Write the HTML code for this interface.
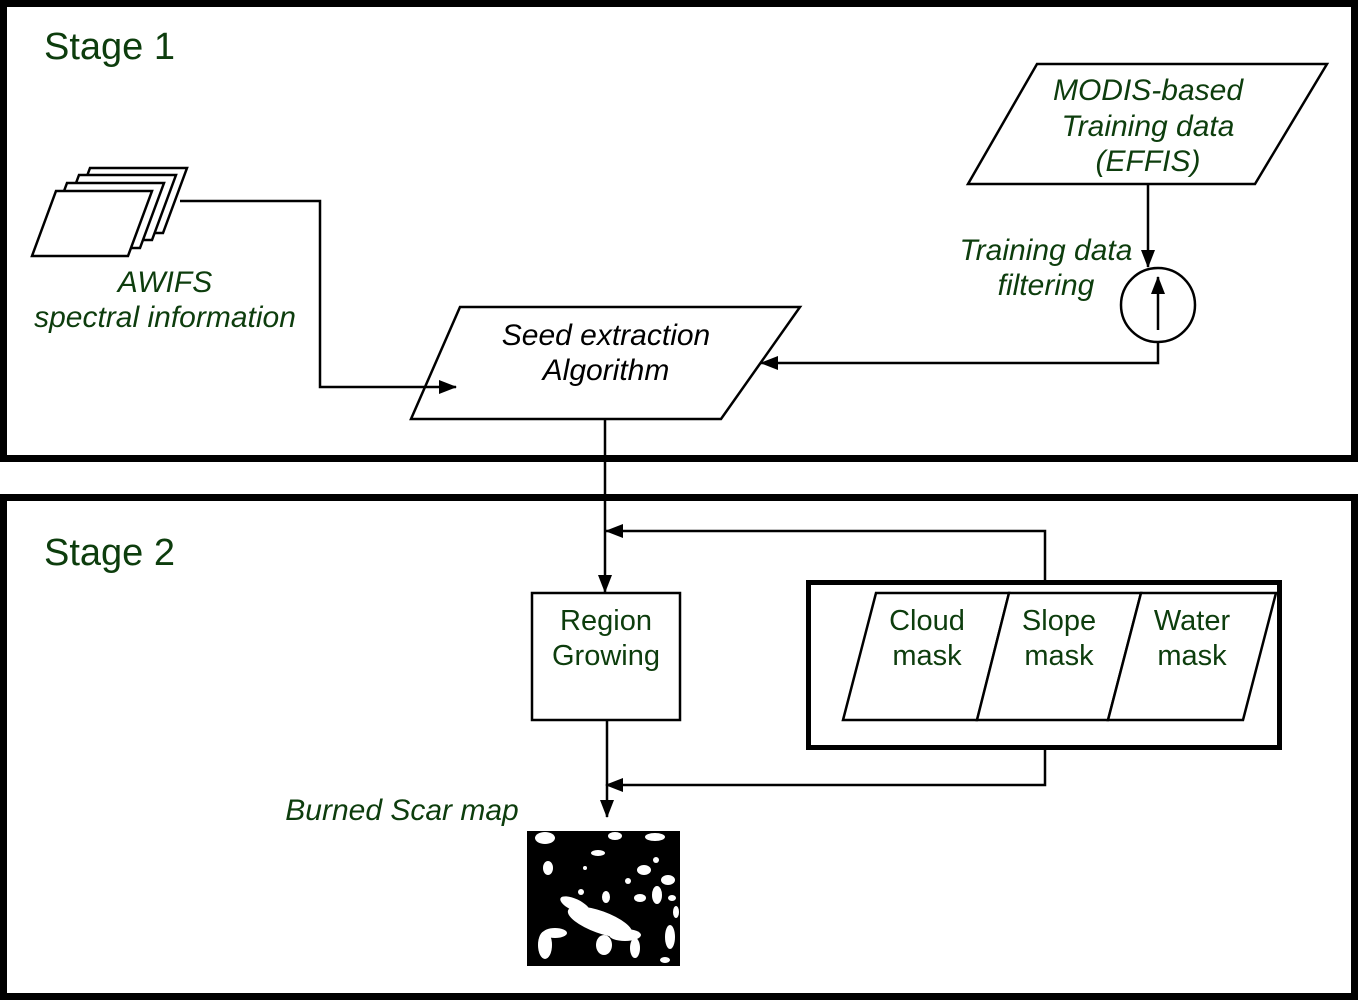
<!DOCTYPE html>
<html><head><meta charset="utf-8"><style>
html,body{margin:0;padding:0;background:#fff;}
svg{display:block;}
text{font-family:"Liberation Sans",sans-serif;fill:#0d3d0d;}
.i{font-style:italic;font-size:30px;}
.n{font-size:29px;}
</style></head><body>
<svg width="1358" height="1000" viewBox="0 0 1358 1000" xmlns="http://www.w3.org/2000/svg">
<defs>
<marker id="a" markerWidth="18" markerHeight="14" refX="17" refY="7" orient="auto" markerUnits="userSpaceOnUse" viewBox="0 0 18 14">
<path d="M0,0 L18,7 L0,14 z" fill="#000"/></marker>
</defs>
<g fill="none" stroke="#000">
<rect x="3.5" y="3.5" width="1351" height="455" stroke-width="7"/>
<rect x="3.5" y="497.5" width="1351" height="499" stroke-width="7"/>
<rect x="808.5" y="582.5" width="471" height="165" stroke-width="5"/>
</g>
<text x="44" y="59" font-size="38">Stage 1</text>
<text x="44" y="565" font-size="38">Stage 2</text>
<g fill="#fff" stroke="#000" stroke-width="2.5">
<polygon points="90,168 187,168 163,233 66,233"/>
<polygon points="79,175 176,175 152,240 55,240"/>
<polygon points="67,183 164,183 140,248 43,248"/>
<polygon points="56,191 152,191 128,256 32,256"/>
</g>
<text class="i" x="165" y="292" text-anchor="middle">AWIFS</text>
<text class="i" x="165" y="327" text-anchor="middle">spectral information</text>
<polygon points="460,307 800,307 721,419 411,419" fill="#fff" stroke="#000" stroke-width="2.5"/>
<text class="i" x="606" y="345" text-anchor="middle" style="fill:#000">Seed extraction</text>
<text class="i" x="606" y="380" text-anchor="middle" style="fill:#000">Algorithm</text>
<polygon points="1037,64 1327,64 1255,184 968,184" fill="#fff" stroke="#000" stroke-width="2.5"/>
<text class="i" x="1148" y="100" text-anchor="middle">MODIS-based</text>
<text class="i" x="1148" y="136" text-anchor="middle">Training data</text>
<text class="i" x="1148" y="171" text-anchor="middle">(EFFIS)</text>
<text class="i" x="1046" y="260" text-anchor="middle">Training data</text>
<text class="i" x="1046" y="295" text-anchor="middle">filtering</text>
<circle cx="1158" cy="305" r="37" fill="#fff" stroke="#000" stroke-width="2.5"/>
<g stroke="#000" stroke-width="2.5" fill="none">
<line x1="1158" y1="330" x2="1158" y2="277" marker-end="url(#a)"/>
<line x1="1148" y1="184" x2="1148" y2="267" marker-end="url(#a)"/>
<polyline points="180,201 320,201 320,387 456,387" marker-end="url(#a)"/>
<polyline points="1158,342 1158,363 761,363" marker-end="url(#a)"/>
<line x1="605" y1="419" x2="605" y2="592" marker-end="url(#a)"/>
<polyline points="1045,580 1045,531 606,531" marker-end="url(#a)"/>
<line x1="607" y1="720" x2="607" y2="817" marker-end="url(#a)"/>
<polyline points="1045,750 1045,785 606,785" marker-end="url(#a)"/>
</g>
<rect x="532" y="593" width="148" height="127" fill="#fff" stroke="#000" stroke-width="2.5"/>
<text class="n" x="606" y="630" text-anchor="middle">Region</text>
<text class="n" x="606" y="665" text-anchor="middle">Growing</text>
<g fill="#fff" stroke="#000" stroke-width="2.5">
<polygon points="876,593 1009,593 977,720 843,720"/>
<polygon points="1009,593 1141,593 1108,720 977,720"/>
<polygon points="1141,593 1276,593 1243,720 1108,720"/>
</g>
<text class="n" x="927" y="630" text-anchor="middle">Cloud</text>
<text class="n" x="927" y="665" text-anchor="middle">mask</text>
<text class="n" x="1059" y="630" text-anchor="middle">Slope</text>
<text class="n" x="1059" y="665" text-anchor="middle">mask</text>
<text class="n" x="1192" y="630" text-anchor="middle">Water</text>
<text class="n" x="1192" y="665" text-anchor="middle">mask</text>
<text class="i" x="402" y="820" text-anchor="middle">Burned Scar map</text>
<rect x="527" y="831" width="153" height="135" fill="#000"/>
<g fill="#fff">
<ellipse cx="600" cy="922" rx="34" ry="11" transform="rotate(20 600 922)"/>
<ellipse cx="575" cy="905" rx="16" ry="6" transform="rotate(25 575 905)"/>
<ellipse cx="625" cy="935" rx="16" ry="6"/>
<ellipse cx="555" cy="933" rx="12" ry="5"/>
<ellipse cx="545" cy="945" rx="7" ry="14"/>
<ellipse cx="604" cy="945" rx="8" ry="10"/>
<ellipse cx="635" cy="948" rx="5" ry="10"/>
<ellipse cx="545" cy="838" rx="10" ry="6"/>
<ellipse cx="615" cy="836" rx="7" ry="4"/>
<ellipse cx="655" cy="837" rx="10" ry="4"/>
<ellipse cx="548" cy="868" rx="5" ry="7"/>
<ellipse cx="598" cy="853" rx="7" ry="3"/>
<ellipse cx="644" cy="870" rx="7" ry="5"/>
<ellipse cx="668" cy="880" rx="7" ry="5"/>
<ellipse cx="657" cy="895" rx="5" ry="9"/>
<ellipse cx="640" cy="898" rx="6" ry="4"/>
<ellipse cx="672" cy="898" rx="4" ry="3"/>
<ellipse cx="670" cy="937" rx="5" ry="12"/>
<ellipse cx="676" cy="912" rx="3" ry="6"/>
<ellipse cx="606" cy="897" rx="4" ry="6"/>
<ellipse cx="581" cy="892" rx="3" ry="3"/>
<ellipse cx="628" cy="881" rx="3" ry="3"/>
<ellipse cx="656" cy="860" rx="3" ry="3"/>
<ellipse cx="665" cy="960" rx="5" ry="3"/>
<ellipse cx="585" cy="868" rx="2" ry="2"/>
</g>
</svg>
</body></html>
